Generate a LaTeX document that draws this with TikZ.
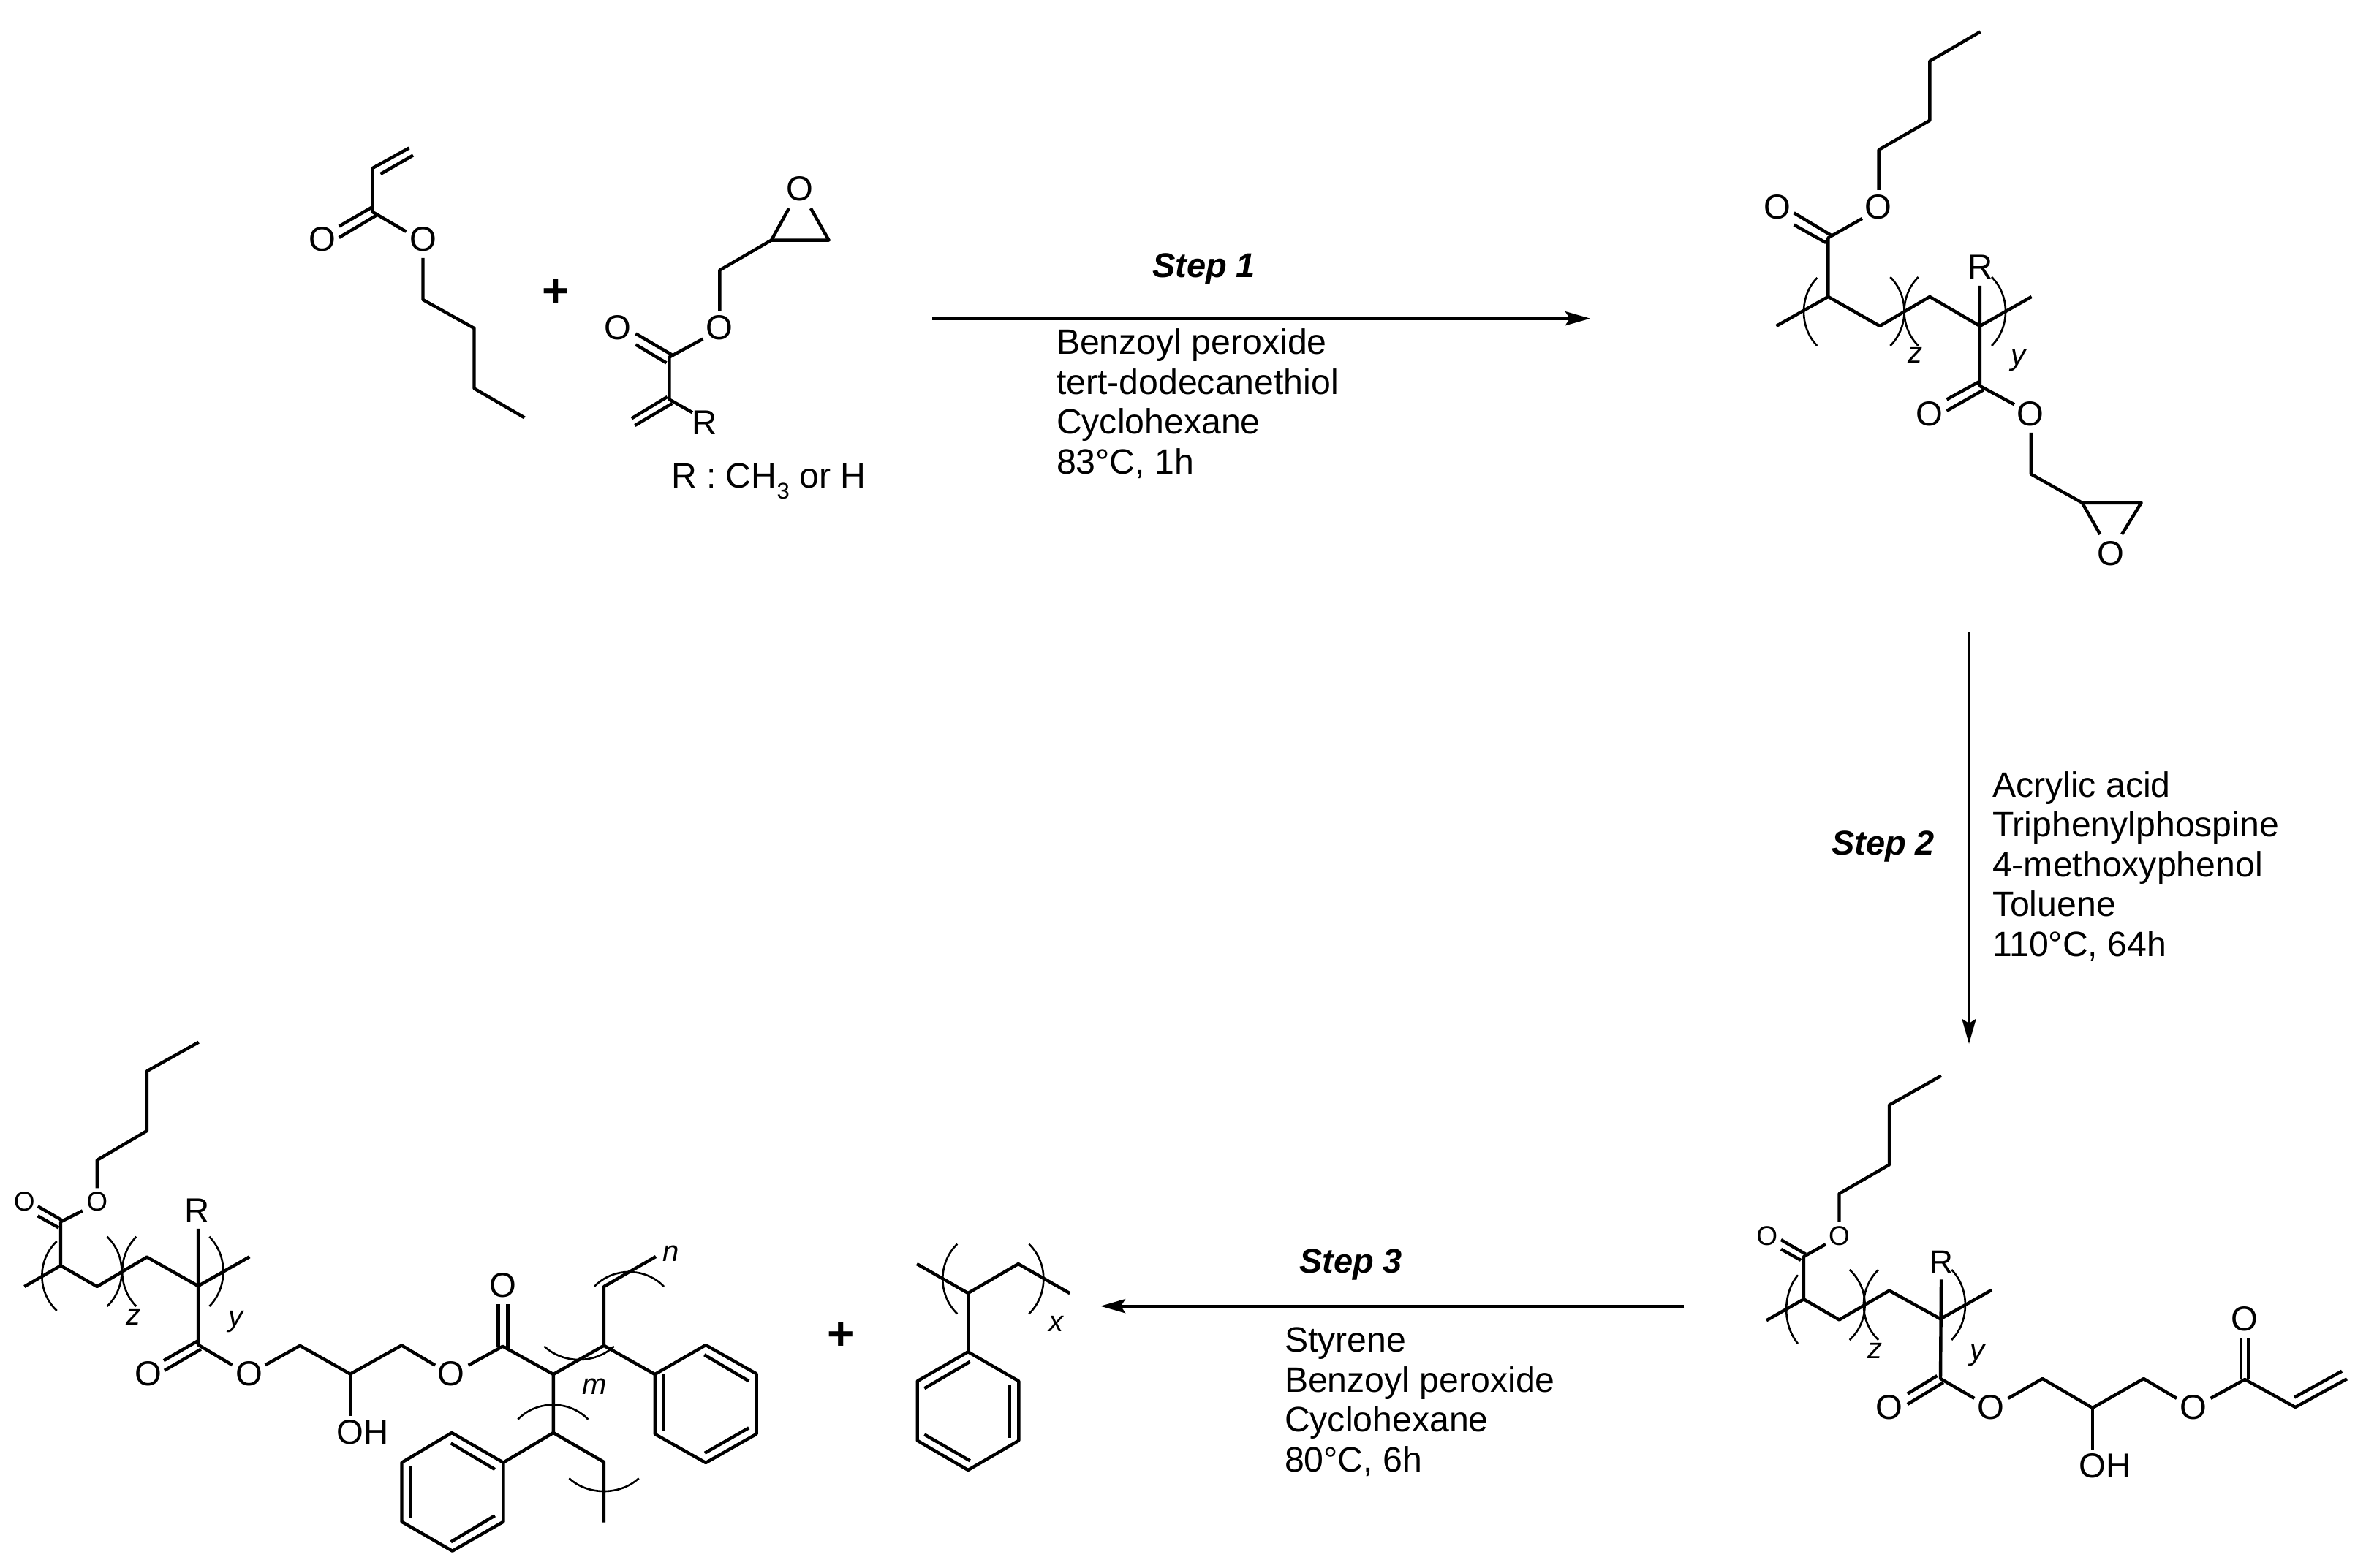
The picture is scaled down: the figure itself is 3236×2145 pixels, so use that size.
\documentclass[tikz,border=0pt]{standalone}
\usepackage{fontspec}
\setmainfont{Liberation Sans}
\usetikzlibrary{arrows.meta}
\tikzset{
  bondline/.style={line width=2.2pt,line join=round,line cap=butt,black},
  brkline/.style={line width=1.3pt,black},
  rxnarrow/.style={line width=2.2pt,black,-{Stealth[length=17pt,width=9.5pt,inset=3pt]}},
  atomlabel/.style={inner sep=0pt,outer sep=0pt,font=\fontsize{23.65}{27}\selectfont},
  smallatom/.style={inner sep=0pt,outer sep=0pt,font=\fontsize{18.5}{22}\selectfont},
  idx/.style={inner sep=0pt,outer sep=0pt,font=\fontsize{20}{24}\selectfont\itshape},
  steplabel/.style={inner sep=0pt,outer sep=0pt,anchor=base west,font=\fontsize{23.5}{27}\selectfont\bfseries\itshape},
  cond/.style={inner sep=0pt,outer sep=0pt,anchor=base west,font=\fontsize{24.1}{27}\selectfont},
  plussign/.style={inner sep=0pt,outer sep=0pt,font=\fontsize{32}{36}\selectfont\bfseries}
}
\newcommand{\bnd}[1]{\draw[bondline] #1;}
% vertical bracket: end x, y1, y2, bulge x
\newcommand{\vbrk}[4]{%
  \pgfmathsetmacro{\kk}{#1+(#4-#1)*4/3}%
  \pgfmathsetmacro{\cA}{#2+0.27*(#3-#2)}%
  \pgfmathsetmacro{\cB}{#3-0.27*(#3-#2)}%
  \draw[brkline] (#1,#2) .. controls (\kk,\cA) and (\kk,\cB) .. (#1,#3);}
% horizontal bracket: x1, x2, end y, bulge y
\newcommand{\hbrk}[4]{%
  \pgfmathsetmacro{\kk}{#3+(#4-#3)*4/3}%
  \pgfmathsetmacro{\cA}{#1+0.27*(#2-#1)}%
  \pgfmathsetmacro{\cB}{#2-0.27*(#2-#1)}%
  \draw[brkline] (#1,#3) .. controls (\cA,\kk) and (\cB,\kk) .. (#2,#3);}
\begin{document}
\begin{tikzpicture}[x=0.5pt,y=-0.5pt]
\fill[white] (0,0) rectangle (3236,2145);
\useasboundingbox (0,0) rectangle (3236,2145);

% ===== butyl acrylate =====
\node[atomlabel] (aO1) at (440.7,327.5) {O};
\node[atomlabel] (aO2) at (578.5,327.5) {O};
\bnd{(559.5,202.5) -- (509.6,230) -- (509.6,290) -- (555.5,316.8)}
\bnd{(565,212.5) -- (520.5,238)}
\bnd{(507.9,284) -- (463.7,309.6)}
\bnd{(514.8,294.6) -- (463.7,325)}
\bnd{(578.5,353) -- (578.5,410) -- (648.5,449) -- (648.5,531.4) -- (717.4,571.4)}
\node[plussign] (plus1) at (760,401) {+};

% ===== glycidyl (meth)acrylate =====
\node[atomlabel] (bO1) at (1093.4,258) {O};
\node[atomlabel] (bO2) at (984.3,448.2) {O};
\node[atomlabel] (bO3) at (844.8,448.2) {O};
\node[atomlabel] (bR) at (964,578) {R};
\bnd{(1079,285) -- (1055,328.6) -- (1133.6,328.6) -- (1108.9,285)}
\bnd{(1055,328.6) -- (984.3,369.6) -- (984.3,425)}
\bnd{(961.4,463.6) -- (915.4,488.6) -- (915.4,546.4) -- (947,564.3)}
\bnd{(869.5,456.4) -- (919.5,485.7)}
\bnd{(869.5,471.4) -- (911.4,496.4)}
\bnd{(912.6,542.9) -- (863.8,572.5)}
\bnd{(919.5,551.8) -- (868.4,582)}
\node[cond] (rdef) at (918,668) {R : CH\raisebox{-7.5pt}{\fontsize{15.5}{18}\selectfont 3} or H};

% ===== step 1 =====
\coordinate (s1a) at (1275,435.7);
\coordinate (s1b) at (2175,435.7);
\draw[rxnarrow] (s1a) -- (s1b);
\node[steplabel] (st1) at (1576,380) {Step 1};
\node[cond] (c11) at (1445,485) {Benzoyl peroxide};
\node[cond] (c12) at (1445,539) {tert-dodecanethiol};
\node[cond] (c13) at (1445,593.3) {Cyclohexane};
\node[cond] (c14) at (1445,648) {83°C, 1h};

% ===== product 1 =====
\node[atomlabel] (cO1) at (2568.8,283.5) {O};
\node[atomlabel] (cO2) at (2431.3,283.5) {O};
\node[atomlabel] (cR) at (2708.5,365) {R};
\node[atomlabel] (cO3) at (2639.3,566) {O};
\node[atomlabel] (cO4) at (2777.2,566) {O};
\node[atomlabel] (cO5) at (2887,756.8) {O};
\bnd{(2708.5,43.4) -- (2639.3,83.7) -- (2639.3,164.7) -- (2569.6,205) -- (2569.6,260)}
\bnd{(2546.9,299) -- (2500.4,325.3) -- (2500.4,405.9)}
\bnd{(2453.6,291.3) -- (2504,321.6)}
\bnd{(2453.6,307.5) -- (2497.3,332)}
\bnd{(2429.5,446) -- (2500.4,405.9) -- (2571,446) -- (2639.3,405.9) -- (2708,446) -- (2778.6,405.9)}
\bnd{(2708,391) -- (2708,528) -- (2755,553.3)}
\bnd{(2662.5,546.5) -- (2707,522)}
\bnd{(2662.5,562) -- (2712.5,533.5)}
\bnd{(2777.7,592) -- (2777.7,648.5) -- (2847.8,687.8) -- (2928.6,687.8) -- (2902,731)}
\bnd{(2847.8,687.8) -- (2872.3,731)}
\vbrk{2485.3}{380}{473}{2467}
\vbrk{2585.3}{379}{473}{2604.5}
\vbrk{2623.7}{379}{473}{2604.5}
\vbrk{2724}{379}{473}{2743}
\node[idx] (cz) at (2619,486) {z};
\node[idx] (cy) at (2760.7,493) {y};

% ===== step 2 =====
\coordinate (s2a) at (2693,865);
\coordinate (s2b) at (2693,1428);
\draw[rxnarrow] (s2a) -- (s2b);
\node[steplabel] (st2) at (2505,1169.6) {Step 2};
\node[cond] (c21) at (2725,1090.3) {Acrylic acid};
\node[cond] (c22) at (2725,1144.7) {Triphenylphospine};
\node[cond] (c23) at (2725,1199) {4-methoxyphenol};
\node[cond] (c24) at (2725,1253.7) {Toluene};
\node[cond] (c25) at (2725,1308) {110°C, 64h};

% ===== product 2 =====
\node[smallatom] (dO1) at (2515.5,1690.4) {O};
\node[smallatom] (dO2) at (2416.7,1690.4) {O};
\node[atomlabel,font=\fontsize{22}{26}\selectfont] (dR) at (2655,1726) {R};
\node[atomlabel] (dO3) at (2583.9,1925) {O};
\node[atomlabel] (dO4) at (2722.9,1925) {O};
\node[atomlabel] (dO5) at (2999.7,1925) {O};
\node[atomlabel] (dO6) at (3070.3,1804.3) {O};
\node[atomlabel,anchor=west] (dOH) at (2843.5,2005) {OH};
\bnd{(2655,1471.6) -- (2584,1511.6) -- (2584,1593.3) -- (2515.5,1632.9) -- (2515.5,1671.6)}
\bnd{(2496.9,1702.2) -- (2467,1719) -- (2467,1777.3)}
\bnd{(2435.9,1696) -- (2469.8,1715.7)}
\bnd{(2435.9,1708.8) -- (2463,1723.9)}
\bnd{(2416,1806.3) -- (2467,1777.3) -- (2515.5,1805.5) -- (2584,1765.5) -- (2654,1804.3) -- (2724,1764.7)}
\bnd{(2655,1750.4) -- (2654,1886) -- (2700.3,1912.9)}
\bnd{(2608.8,1906.7) -- (2649.4,1882)}
\bnd{(2608.8,1921) -- (2657.9,1891.2)}
\bnd{(2746.6,1912.9) -- (2793.5,1886) -- (2861.9,1926) -- (2931.9,1886) -- (2977,1912.9)}
\bnd{(2861.9,1926) -- (2861.9,1983)}
\bnd{(3023.5,1912.9) -- (3070.3,1887) -- (3139.3,1925) -- (3209.9,1886.3)}
\bnd{(3138,1911.6) -- (3203,1875.7)}
\bnd{(3064.7,1830) -- (3064.7,1886.3)}
\bnd{(3074.8,1830) -- (3074.8,1886.3)}
\vbrk{2459}{1744.3}{1838}{2443.2}
\vbrk{2529.7}{1737}{1833}{2550.6}
\vbrk{2569.2}{1737}{1833}{2548.9}
\vbrk{2669.2}{1737}{1833}{2687.9}
\node[idx] (dz) at (2564.7,1848.4) {z};
\node[idx] (dy) at (2704.8,1854) {y};

% ===== step 3 =====
\coordinate (s3a) at (2303,1786.7);
\coordinate (s3b) at (1505,1786.7);
\draw[rxnarrow] (s3a) -- (s3b);
\node[steplabel] (st3) at (1777,1741.7) {Step 3};
\node[cond] (c31) at (1757,1849) {Styrene};
\node[cond] (c32) at (1757,1904) {Benzoyl peroxide};
\node[cond] (c33) at (1757,1958) {Cyclohexane};
\node[cond] (c34) at (1757,2013) {80°C, 6h};

% ===== polystyrene =====
\bnd{(1254,1729) -- (1324,1769) -- (1392.7,1729) -- (1463.3,1769.3)}
\bnd{(1324,1769) -- (1324,1849.3)}
\draw[bondline] (1324,1849.3) -- (1393.3,1889.3) -- (1393.3,1970.7) -- (1324,2011) -- (1254.7,1970.7) -- (1254.7,1889.3) -- cycle;
\bnd{(1326.7,1862.7) -- (1264.3,1899.3)}
\bnd{(1380.7,1894.3) -- (1380.7,1966.7)}
\bnd{(1264.3,1962.3) -- (1326.7,1998.3)}
\vbrk{1309.3}{1701.7}{1797.3}{1289.3}
\vbrk{1407.3}{1701.7}{1797.3}{1427.3}
\node[idx] (ex) at (1444,1810.7) {x};
\node[plussign] (plus2) at (1150,1827.7) {+};

% ===== graft product =====
\node[smallatom] (eO1) at (132.8,1644) {O};
\node[smallatom] (eO2) at (33.3,1644) {O};
\node[atomlabel] (eR) at (269.8,1656.3) {R};
\node[atomlabel] (eO3) at (202.8,1879.6) {O};
\node[atomlabel] (eO4) at (340.6,1879.6) {O};
\node[atomlabel] (eO5) at (617,1879.3) {O};
\node[atomlabel] (eO6) at (687.6,1758.3) {O};
\node[atomlabel,anchor=west] (eOH) at (460.6,1959.3) {OH};
\bnd{(271.7,1425.7) -- (200.9,1465.3) -- (200.9,1547) -- (132.8,1587) -- (132.8,1625.3)}
\bnd{(112.9,1656.3) -- (83,1671.4) -- (83,1731.4)}
\bnd{(51.7,1650.2) -- (85,1669.4)}
\bnd{(51.7,1663.3) -- (80.4,1679.6)}
\bnd{(33.3,1760) -- (83,1731.4) -- (132.8,1760) -- (200.9,1719.6) -- (271,1759.2) -- (341.4,1719.2)}
\bnd{(271,1680.8) -- (271,1839.6) -- (317.6,1867.3)}
\bnd{(223.9,1861.2) -- (269.8,1834.7)}
\bnd{(225,1874.7) -- (274.8,1845.7)}
\bnd{(362.8,1867.3) -- (410.3,1840.8) -- (479.1,1879.6) -- (549.3,1840.4) -- (595.1,1867.7)}
\bnd{(479.1,1879.6) -- (479.1,1936.7)}
\bnd{(640.7,1867.7) -- (687.6,1841.7) -- (756.8,1880) -- (826,1840.7) -- (826,1760) -- (897,1719)}
\bnd{(681.3,1784.3) -- (681.3,1841.7)}
\bnd{(694.6,1784.3) -- (694.6,1846)}
\draw[bondline] (895.7,1880) -- (965.3,1840) -- (1034.6,1879.3) -- (1034.6,1961.7) -- (965.3,2001) -- (895.7,1961.7) -- cycle;
\bnd{(826,1840.7) -- (895.7,1880)}
\bnd{(908.1,1880) -- (908.1,1956.7)}
\bnd{(963.3,1853.3) -- (1024.2,1889.3)}
\bnd{(1024.2,1953.3) -- (964,1987.7)}
\bnd{(756.8,1880) -- (756.8,1960) -- (688.4,2000.7)}
\draw[bondline] (688.4,2000.7) -- (617.9,1960) -- (549.5,2000.7) -- (549.5,2081.7) -- (618.7,2121.7) -- (688.4,2081.7) -- cycle;
\bnd{(616.7,1974.3) -- (676.8,2010)}
\bnd{(561.1,2005) -- (561.1,2077.3)}
\bnd{(616.7,2109.3) -- (676.8,2073.3)}
\bnd{(756.8,1960) -- (826,2000) -- (826,2082.7)}
\vbrk{77.7}{1698}{1793}{57.4}
\vbrk{146.6}{1691.8}{1787}{166.5}
\vbrk{186.4}{1691.8}{1787}{167.2}
\vbrk{286.3}{1691.8}{1787}{305.4}
\hbrk{812.8}{908.1}{1760}{1740}
\hbrk{744.4}{839.7}{1841.7}{1860}
\hbrk{708.3}{804.5}{1941.7}{1921.7}
\hbrk{778.4}{873.7}{2022.3}{2040}
\node[idx] (ez) at (182.5,1802) {z};
\node[idx] (ey) at (322.6,1808) {y};
\node[idx] (en) at (917.7,1715) {n};
\node[idx] (em) at (813.6,1896.7) {m};
\end{tikzpicture}
\end{document}
